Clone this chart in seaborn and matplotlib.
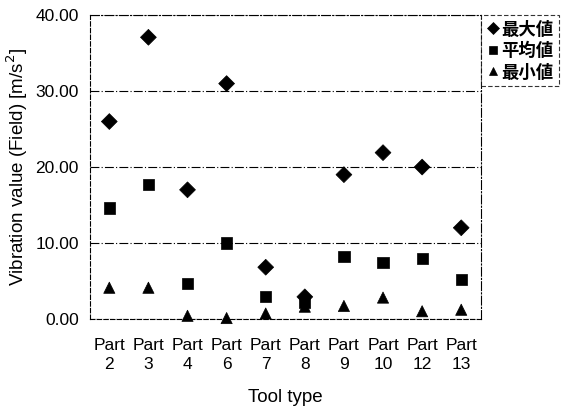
import seaborn as sns
import numpy as np
import pandas as pd
import matplotlib
matplotlib.use("Agg")
import matplotlib.pyplot as plt

parts = ["Part\n2", "Part\n3", "Part\n4", "Part\n6", "Part\n7",
         "Part\n8", "Part\n9", "Part\n10", "Part\n12", "Part\n13"]
max_vals = [26.0, 37.1, 17.0, 31.0, 6.8, 2.9, 19.0, 21.9, 20.0, 12.0]
mean_vals = [14.6, 17.7, 4.7, 10.0, 2.9, 2.2, 8.2, 7.4, 7.9, 5.2]
min_vals = [4.1, 4.1, 0.4, 0.1, 0.7, 1.6, 1.7, 2.8, 1.0, 1.2]
series_names = ["最大値", "平均値", "最小値"]

df = pd.DataFrame({
    "part": parts * 3,
    "value": max_vals + mean_vals + min_vals,
    "series": [series_names[0]] * 10 + [series_names[1]] * 10 + [series_names[2]] * 10,
})

sns.set_style("white")
plt.rcParams['font.family'] = ['Liberation Sans', 'Noto Sans CJK JP', 'DejaVu Sans']
plt.rcParams['text.color'] = 'black'
plt.rcParams['axes.labelcolor'] = 'black'
plt.rcParams['xtick.color'] = 'black'
plt.rcParams['ytick.color'] = 'black'

fig, ax = plt.subplots(figsize=(5.61, 4.13), dpi=100)
fig.subplots_adjust(left=0.16, right=0.857, top=0.963, bottom=0.228)

ax.grid(axis="y", color="black", linestyle=(0, (8, 2, 1, 2)), linewidth=0.8)
ax.set_axisbelow(True)

sns.scatterplot(data=df, x="part", y="value", style="series", hue="series",
                palette=["black"] * 3, markers=["D", "s", "^"], s=65,
                edgecolor="black", linewidth=0.5, ax=ax, legend=True,
                zorder=3, clip_on=False)

ax.set_xlim(-0.5, 9.5)
ax.set_ylim(0, 40)
ax.set_yticks([0, 10, 20, 30, 40])
ax.set_yticklabels(["0.00", "10.00", "20.00", "30.00", "40.00"])

for side in ["left", "bottom"]:
    ax.spines[side].set_linestyle((0, (4, 2)))
    ax.spines[side].set_linewidth(0.8)
    ax.spines[side].set_color("black")
for side in ["top", "right"]:
    ax.spines[side].set_linestyle((0, (8, 2, 1, 2)))
    ax.spines[side].set_linewidth(0.8)
    ax.spines[side].set_color("black")

ax.tick_params(axis="x", length=0, labelsize=12.5, pad=14, colors="black")
ax.tick_params(axis="y", length=0, labelsize=12.5, pad=8, colors="black")
for t in ax.get_xticklabels():
    t.set_linespacing(1.35)

ax.set_xlabel("Tool type", fontsize=13.5, labelpad=12, color="black")
ax.set_ylabel("Vibration value (Field) [m/s$^2$]", fontsize=13.5, labelpad=4,
              color="black")

handles, labels = ax.get_legend_handles_labels()
leg = ax.legend(handles, labels, loc="upper left", bbox_to_anchor=(1.0, 1.0),
                frameon=True, fontsize=12.5, handletextpad=0.1, borderpad=0.3,
                labelspacing=0.25, handlelength=0.8, markerscale=0.75,
                borderaxespad=0, fancybox=False)
leg.get_frame().set_edgecolor("black")
leg.get_frame().set_linestyle((0, (4, 2)))
leg.get_frame().set_linewidth(0.8)
for t in leg.get_texts():
    t.set_fontweight("bold")
    t.set_color("black")

fig.savefig("out.png", dpi=100)
